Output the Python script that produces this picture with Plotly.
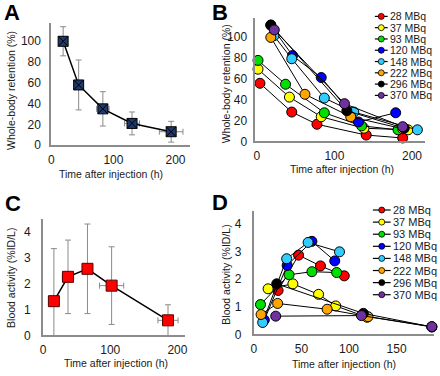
import plotly.graph_objects as go

# ---------------- data ----------------
# Panel A: whole-body retention (mean ± SD)
A_time = [19, 44, 83, 130, 193]
A_time_sd = [2, 2, 10, 12, 19]
A_ret = [100, 58, 35, 21, 13]
A_ret_sd = [14, 24, 16.5, 11, 10]

# Panel C: blood activity (mean ± SD)
C_time = [16, 37, 66, 102, 186]
C_time_sd = [7, 8.5, 3, 18, 15]
C_blood = [1.32, 2.26, 2.57, 1.92, 0.58]
C_blood_sd = [2.03, 1.42, 1.73, 1.5, 0.6]

# Panel B / D: individual patients
doses = ["28 MBq", "37 MBq", "93 MBq", "120 MBq", "148 MBq", "222 MBq", "296 MBq", "370 MBq"]
dose_colors = ["#ff0000", "#ffff00", "#00e000", "#0000ff", "#33ccff", "#ffa500", "#000000", "#7030a0"]

B_time = [
    [4, 45, 77.5, 141, 188],
    [1.5, 42, 83, 138, 195],
    [1.5, 37, 87, 135, 182],
    [18, 46, 83, 131, 179],
    [22, 45, 87, 125, 207],
    [18, 62, 121, 188],
    [18, 116, 190],
    [22.5, 113, 188],
]
B_ret = [
    [55.5, 28, 16.3, 6, 3.2],
    [69, 42.3, 23.5, 12.5, 11],
    [77.4, 54.6, 27.3, 14.8, 11],
    [111, 82, 61, 18.5, 27.3],
    [101, 79, 41.4, 28, 11],
    [99.4, 45, 23.5, 12],
    [111.3, 29.2, 12.5],
    [106.6, 36, 14],
]

D_time = [
    [25.5, 47, 70, 95],
    [15, 41, 68, 86, 119],
    [7, 37, 61, 87],
    [11, 35, 61, 85],
    [9.3, 34.5, 57, 90],
    [7.6, 25, 77, 120, 187],
    [24, 115, 187],
    [23, 113, 187],
]
D_blood = [
    [1.59, 2.87, 2.48, 2.12],
    [1.65, 1.83, 1.45, 1.03, 0.62],
    [1.08, 2.16, 2.27, 2.24],
    [0.52, 2.5, 3.37, 2.66],
    [0.43, 2.74, 3.33, 2.99],
    [0.72, 1.12, 0.91, 0.64, 0.27],
    [1.83, 0.76, 0.27],
    [0.66, 0.68, 0.28],
]

# ---------------- style ----------------
FONT = "Liberation Sans, Arial, sans-serif"
TXT = "#1a1a1a"
AXC = "#8c8c8c"
ERR = "#8a8a8a"
W, H = 440, 376

fig = go.Figure()

# Panel A
fig.add_trace(go.Scatter(
    x=A_time, y=A_ret, mode="lines+markers", xaxis="x", yaxis="y",
    line=dict(color="black", width=1.5),
    marker=dict(symbol="square-x", size=10, color="#1f3a6e", line=dict(color="black", width=1)),
    error_y=dict(type="data", array=A_ret_sd, color=ERR, thickness=1, width=3),
    error_x=dict(type="data", array=A_time_sd, color=ERR, thickness=1, width=3),
    showlegend=False))

# Panel C
fig.add_trace(go.Scatter(
    x=C_time, y=C_blood, mode="lines+markers", xaxis="x3", yaxis="y3",
    line=dict(color="black", width=1.5),
    marker=dict(symbol="square", size=11, color="#ff0000", line=dict(color="#5a0000", width=1)),
    error_y=dict(type="data", array=C_blood_sd, color=ERR, thickness=1, width=3),
    error_x=dict(type="data", array=C_time_sd, color=ERR, thickness=1, width=3),
    showlegend=False))

# Panels B and D
for xs, ys, ax in ((B_time, B_ret, ("x2", "y2")), (D_time, D_blood, ("x4", "y4"))):
    for i in range(len(doses)):
        fig.add_trace(go.Scatter(
            x=xs[i], y=ys[i], mode="lines+markers", xaxis=ax[0], yaxis=ax[1],
            line=dict(color="black", width=1),
            marker=dict(symbol="circle", size=10, color=dose_colors[i], line=dict(color="black", width=1)),
            cliponaxis=False, showlegend=False, name=doses[i]))

annotations = []

# Manual legends (overlay axis in pixel units)
legends = [
    dict(y0=16.7, dy=11.5, lx0=377, lx1=390, mx=383.5, tx=390, fs=10.5),
    dict(y0=214, dy=12.33, lx0=375, lx1=393, mx=384, tx=393, fs=11),
]
for lg in legends:
    for i, name in enumerate(doses):
        yy = lg["y0"] + i * lg["dy"]
        fig.add_trace(go.Scatter(x=[lg["lx0"], lg["lx1"]], y=[yy, yy], mode="lines",
                                 xaxis="x5", yaxis="y5", line=dict(color="black", width=1.2),
                                 showlegend=False, hoverinfo="skip"))
        fig.add_trace(go.Scatter(x=[lg["mx"]], y=[yy], mode="markers", xaxis="x5", yaxis="y5",
                                 marker=dict(size=6, color=dose_colors[i], line=dict(color="black", width=0.8)),
                                 showlegend=False, hoverinfo="skip"))
        annotations.append(dict(text=name, x=lg["tx"] / W, y=1 - yy / H, xref="paper", yref="paper",
                                xanchor="left", yanchor="middle", showarrow=False,
                                font=dict(family=FONT, size=lg["fs"], color=TXT)))

def axis(domain, rng, tickvals, anchor, standoff):
    return dict(domain=domain, range=rng, tickvals=tickvals, anchor=anchor,
                showline=True, linecolor=AXC, linewidth=2, showgrid=False, zeroline=False,
                ticks="", ticklabelstandoff=standoff, tickfont=dict(family=FONT, size=12, color=TXT),
                fixedrange=True)

fig.update_layout(
    width=W, height=H, margin=dict(l=0, r=0, t=0, b=0),
    paper_bgcolor="white", plot_bgcolor="rgba(0,0,0,0)",
    xaxis=axis([49 / W, 190 / W], [0, 224], [0, 100, 200], "y", 2),
    yaxis=axis([1 - 148 / H, 1 - 23 / H], [0, 118], [0, 20, 40, 60, 80, 100], "x", 6),
    xaxis2=axis([255 / W, 428 / W], [-3, 217], [0, 100, 200], "y2", 2),
    yaxis2=axis([1 - 144 / H, 1 - 18.3 / H], [0, 118], [0, 20, 40, 60, 80, 100], "x2", 3),
    xaxis3=axis([40.7 / W, 184.3 / W], [0, 211], [0, 100, 200], "y3", 2),
    yaxis3=axis([1 - 341.7 / H, 1 - 223 / H], [0, 4.5], [0, 1, 2, 3, 4], "x3", 8),
    xaxis4=axis([254.3 / W, 436.7 / W], [0, 189], [0, 50, 100, 150], "y4", 2),
    yaxis4=axis([1 - 340.7 / H, 1 - 214.7 / H], [0, 4.48], [0, 1, 2, 3, 4], "x4", 8),
    xaxis5=dict(domain=[0, 1], range=[0, W], visible=False, fixedrange=True, anchor="y5"),
    yaxis5=dict(domain=[0, 1], range=[H, 0], visible=False, fixedrange=True, anchor="x5"),
)

def ann(text, x, y, size, bold=False, angle=0):
    return dict(text=f"<b>{text}</b>" if bold else text, x=x / W, y=1 - y / H, xref="paper", yref="paper",
                xanchor="center", yanchor="middle", showarrow=False, textangle=angle,
                font=dict(family=FONT, size=size, color="black" if bold else TXT))

annotations += [
    ann("A", 9, 13, 22, True), ann("B", 220, 13, 22, True),
    ann("C", 10, 207, 22, True), ann("D", 220, 206, 22, True),
    ann("Time after injection (h)", 109, 177, 10.5), ann("Time after injection (h)", 343.3, 172.7, 10.5),
    ann("Time after injection (h)", 115, 369.7, 10.5), ann("Time after injection (h)", 345.7, 370.7, 10.5),
    ann("Whole-body retention (%)", 8.3, 92.5, 10.5, angle=-90),
    ann("Whole-body retention (%)", 226, 85, 10.5, angle=-90),
    ann("Blood activity (%ID/L)", 8.3, 283, 10.5, angle=-90),
    ann("Blood activity (%ID/L)", 226, 280, 10.5, angle=-90),
]
fig.update_layout(annotations=annotations)

fig.write_html("out.html", config={"displayModeBar": False, "staticPlot": True},
               post_script="document.body.style.margin='0';document.body.style.overflow='hidden';")
